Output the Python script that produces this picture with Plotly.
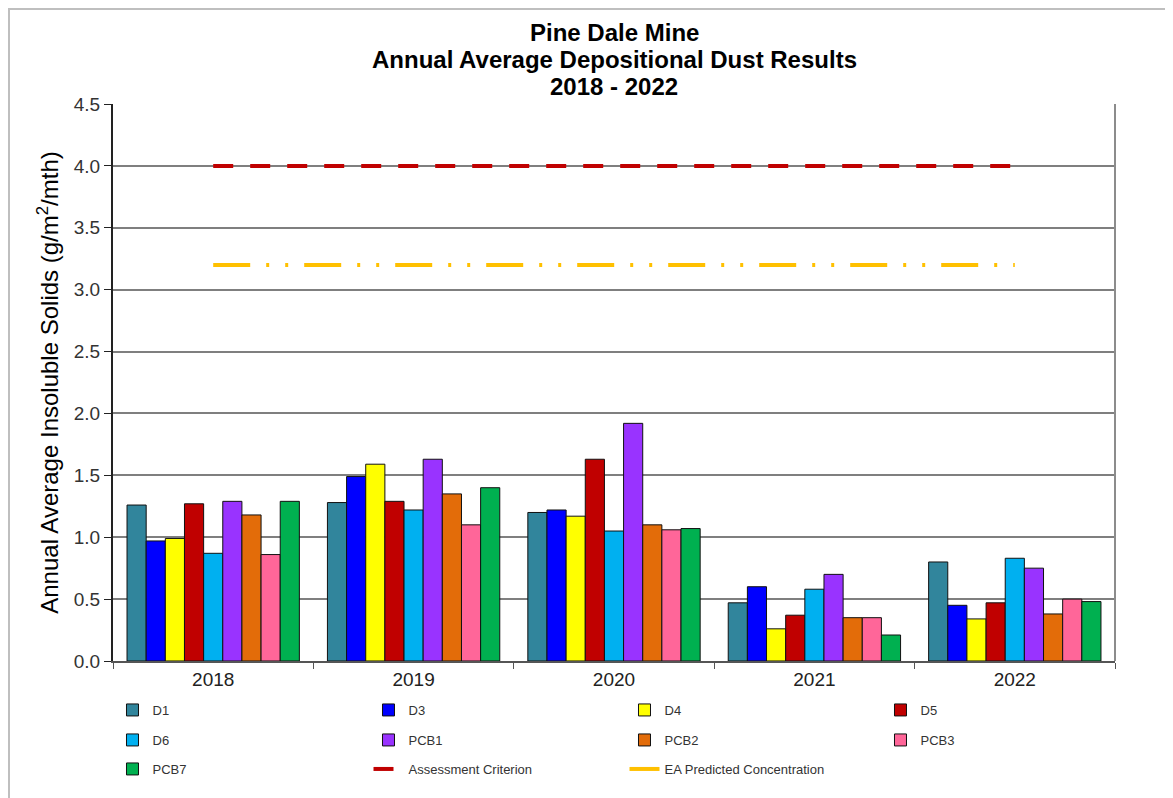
import plotly.graph_objects as go

years = ["2018", "2019", "2020", "2021", "2022"]
series_names = ["D1", "D3", "D4", "D5", "D6", "PCB1", "PCB2", "PCB3", "PCB7"]
D1 = [1.26, 1.28, 1.20, 0.47, 0.80]
D3 = [0.97, 1.49, 1.22, 0.60, 0.45]
D4 = [0.99, 1.59, 1.17, 0.26, 0.34]
D5 = [1.27, 1.29, 1.63, 0.37, 0.47]
D6 = [0.87, 1.22, 1.05, 0.58, 0.83]
PCB1 = [1.29, 1.63, 1.92, 0.70, 0.75]
PCB2 = [1.18, 1.35, 1.10, 0.35, 0.38]
PCB3 = [0.86, 1.10, 1.06, 0.35, 0.50]
PCB7 = [1.29, 1.40, 1.07, 0.21, 0.48]
assessment_criterion = [4.0, 4.0, 4.0, 4.0, 4.0]
ea_predicted = [3.2, 3.2, 3.2, 3.2, 3.2]
title_lines = ["Pine Dale Mine", "Annual Average Depositional Dust Results", "2018 - 2022"]

series_values = [D1, D3, D4, D5, D6, PCB1, PCB2, PCB3, PCB7]
colors = ["#31859C", "#0000FF", "#FFFF00", "#C00000", "#00B0F0",
          "#9933FF", "#E36C09", "#FF6699", "#00B050"]
legend_ids = ["legend", "legend", "legend", "legend",
              "legend2", "legend2", "legend2", "legend2", "legend3"]

FONT = "Arial, 'Liberation Sans', sans-serif"

fig = go.Figure()
for name, vals, col, lg in zip(series_names, series_values, colors, legend_ids):
    fig.add_trace(go.Bar(
        x=years, y=vals, name=name, marker_color=col,
        marker_line=dict(color="#111111", width=1), legend=lg,
    ))

fig.add_trace(go.Scatter(
    x=years, y=assessment_criterion, mode="lines", name="Assessment Criterion",
    line=dict(color="#C00000", width=4, dash="20px,17px"), legend="legend3",
))
fig.add_trace(go.Scatter(
    x=years, y=ea_predicted, mode="lines", name="EA Predicted Concentration",
    line=dict(color="#FFC000", width=4, dash="37px,16px,3px,16px,3px,16px"),
    legend="legend3",
))

# figure pixel geometry (page has an 8px body margin)
L, R, T, B = 105, 66, 96, 145
W, H = 1173, 798
pw = W - L - R
ph = H - T - B

def px_x(p):
    return (p - L) / pw

def px_y(p):
    return (H - B - p) / ph

legend_common = dict(
    orientation="h", entrywidth=211, entrywidthmode="pixels",
    font=dict(family=FONT, size=13, color="#333333"),
    bgcolor="rgba(0,0,0,0)", xanchor="left", yanchor="middle",
    xref="paper", yref="paper",
    x=-0.0005, itemclick=False,
)

annotations = []
for line, ypx in zip(title_lines, [24, 51, 78]):
    annotations.append(dict(
        text="<b>%s</b>" % line, xref="paper", yref="paper",
        x=0.5, y=px_y(ypx), xanchor="center", yanchor="middle",
        showarrow=False, font=dict(family=FONT, size=24, color="#000000"),
    ))

fig.update_layout(
    width=W, height=H,
    margin=dict(l=L, r=R, t=T, b=B, autoexpand=False),
    paper_bgcolor="white", plot_bgcolor="white",
    barmode="group", bargap=0.14, bargroupgap=0,
    font=dict(family=FONT, color="#222222"),
    annotations=annotations,
    legend=dict(**legend_common, y=px_y(702)),
    legend2=dict(**legend_common, y=px_y(732)),
    legend3=dict(**legend_common, y=px_y(761)),
    xaxis=dict(
        type="category", showline=True, linecolor="#555555", linewidth=2,
        ticks="outside", tickson="boundaries", ticklen=6, tickcolor="#555555",
        tickfont=dict(family=FONT, size=19, color="#222222"),
        showgrid=False,
    ),
    yaxis=dict(
        range=[0, 4.5], dtick=0.5, tickformat=".1f",
        showline=True, linecolor="#222222", linewidth=2,
        ticks="outside", ticklen=7, tickcolor="#222222",
        gridcolor="#7F7F7F", gridwidth=2, zeroline=False,
        tickfont=dict(family=FONT, size=19, color="#333333"),
        title=dict(text="Annual Average Insoluble Solids (g/m<sup>2</sup>/mth)",
                   font=dict(family=FONT, size=24, color="#000000"), standoff=8),
    ),
    shapes=[
        dict(type="line", xref="paper", yref="paper", x0=1, x1=1, y0=0, y1=1,
             line=dict(color="#8C8C8C", width=2)),
        dict(type="rect", xref="paper", yref="paper",
             x0=px_x(1), x1=px_x(W + 20), y0=px_y(H + 20), y1=px_y(1),
             line=dict(color="#BFBFBF", width=2), layer="below"),
    ],
)

fig.write_html("out.html")
